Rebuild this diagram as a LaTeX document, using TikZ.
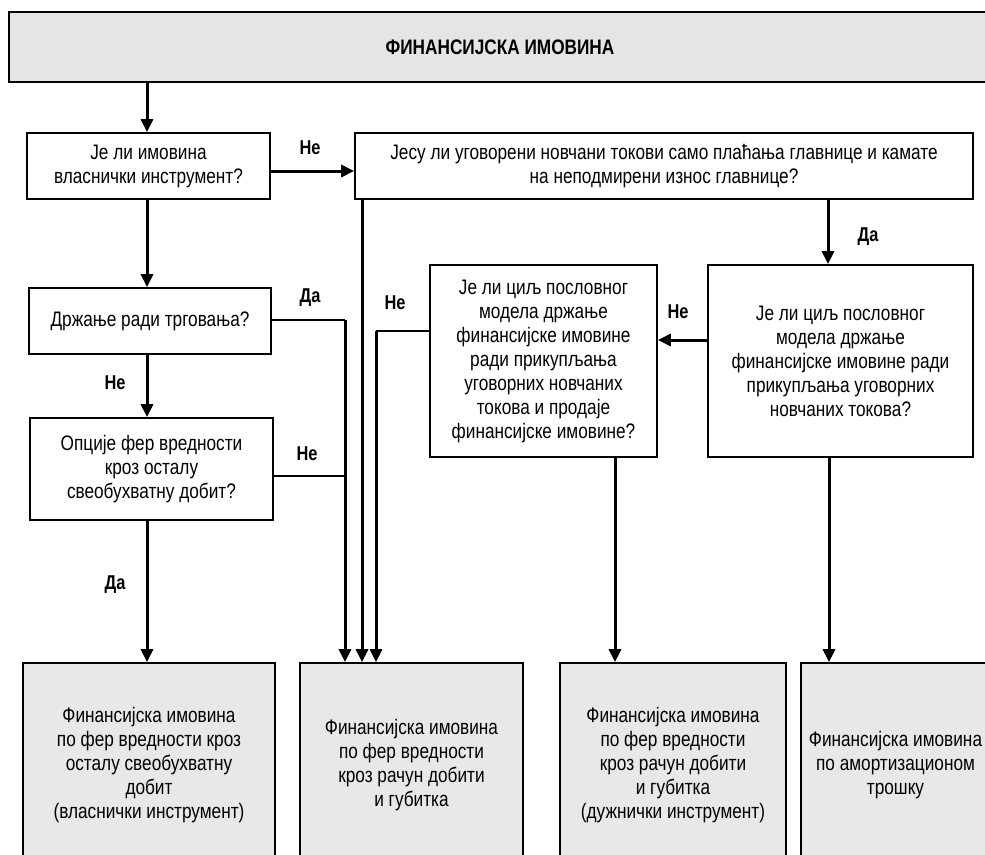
\documentclass[tikz,border=0pt]{standalone}
\usepackage{fontspec}
\setmainfont{Liberation Sans}[FakeStretch=0.82]
\usetikzlibrary{arrows.meta}
\begin{document}
\begin{tikzpicture}[x=1pt,y=-1pt,
  box/.style={draw=black, line width=1.7pt, inner sep=0pt, align=center, font=\fontsize{21}{24}\selectfont},
  qbox/.style={box, fill=white},
  rbox/.style={box, fill=black!9},
  arr/.style={line width=3pt, -{Triangle[length=13pt,width=12pt]}},
  thinl/.style={line width=1.7pt},
  lbl/.style={font=\fontsize{20}{22}\selectfont\bfseries}]
\useasboundingbox (0,0) rectangle (985,854);
\clip (0,0) rectangle (985,854);
\fill[white] (0,0) rectangle (985,854);
% nodes
\node[box, fill=black!10, minimum width=982, minimum height=70, font=\fontsize{21}{24}\selectfont\bfseries] (top) at (500,47) {ФИНАНСИЈСКА ИМОВИНА};
\node[qbox, minimum width=243, minimum height=66] (q1) at (148.5,166) {Је ли имовина\\власнички инструмент?};
\node[qbox, minimum width=242, minimum height=66] (q2) at (150,321) {Држање ради трговања?};
\node[qbox, minimum width=618, minimum height=66] (q3) at (664,166) {Јесу ли уговорени новчани токови само плаћања главнице и камате\\на неподмирени износ главнице?};
\node[qbox, minimum width=227, minimum height=192] (q4) at (543.5,361) {Је ли циљ пословног\\модела држање\\финансијске имовине\\ради прикупљања\\уговорних новчаних\\токова и продаје\\финансијске имовине?};
\node[qbox, minimum width=265, minimum height=192] (q5) at (840.5,361) {Је ли циљ пословног\\модела држање\\финансијске имовине ради\\прикупљања уговорних\\новчаних токова?};
\node[qbox, minimum width=243, minimum height=102] (q6) at (151.5,469) {Опције фер вредности\\кроз осталу\\свеобухватну добит?};
\node[rbox, minimum width=252, minimum height=205] (r1) at (149,765.5) {Финансијска имовина\\по фер вредности кроз\\осталу свеобухватну\\добит\\(власнички инструмент)};
\node[rbox, minimum width=223, minimum height=205] (r2) at (411.5,765.5) {Финансијска имовина\\по фер вредности\\кроз рачун добити\\и губитка};
\node[rbox, minimum width=226, minimum height=205] (r3) at (673,765.5) {Финансијска имовина\\по фер вредности\\кроз рачун добити\\и губитка\\(дужнички инструмент)};
\node[rbox, minimum width=189, minimum height=205] (r4) at (895.5,765.5) {Финансијска имовина\\по амортизационом\\трошку};
% connectors
\draw[arr] (top.south -| 147,0) -- (q1.north -| 147,0);
\draw[arr] (q1.south -| 147,0) -- (q2.north -| 147,0);
\draw[arr] (q2.south -| 147,0) -- (q6.north -| 147,0);
\draw[arr] (q6.south -| 147,0) -- (r1.north -| 147,0);
\draw[arr] (q1.east |- 0,171) -- (q3.west |- 0,171);
\draw[arr] (q3.south -| 828,0) -- (q5.north -| 828,0);
\draw[arr] (q5.west |- 0,340) -- (q4.east |- 0,340);
\draw[arr] (q4.south -| 615,0) -- (r3.north -| 615,0);
\draw[arr] (q5.south -| 829,0) -- (r4.north -| 829,0);
% to r2
\coordinate (jDa) at (345,320);
\coordinate (jNe) at (376,331);
\draw[thinl] (q2.east |- jDa) -- (jDa);
\draw[arr] (jDa) -- (r2.north -| jDa);
\draw[thinl] (q6.east |- 0,476) -- (345,476);
\draw[arr] (q3.south -| 362,0) -- (r2.north -| 362,0);
\draw[thinl] (q4.west |- jNe) -- (jNe);
\draw[arr] (jNe) -- (r2.north -| jNe);
% labels
\node[lbl] (l1) at (310,148) {Не};
\node[lbl] (l2) at (310,298) {Да};
\node[lbl] (l3) at (115,383) {Не};
\node[lbl] (l4) at (307,454) {Не};
\node[lbl] (l5) at (115,585) {Да};
\node[lbl] (l6) at (395,303) {Не};
\node[lbl] (l7) at (678,312) {Не};
\node[lbl] (l8) at (868,237) {Да};
\end{tikzpicture}
\end{document}
